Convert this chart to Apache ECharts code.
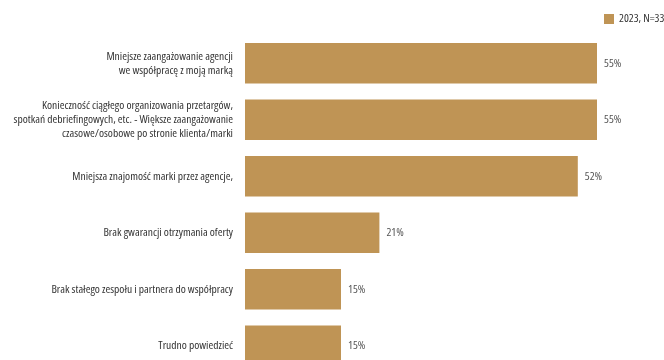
<!DOCTYPE html>
<html>
<head>
<meta charset="utf-8">
<script src="https://cdn.jsdelivr.net/npm/echarts@6/dist/echarts.min.js"></script>
<style>
  html, body { margin: 0; padding: 0; background: #fff; }
  #chart { width: 664px; height: 360px; }
</style>
</head>
<body>
<div id="chart"></div>
<script>
// Reasons listed by respondents (top to bottom)
const categories = [
  'Mniejsze zaangażowanie agencji\nwe współpracę z moją marką',
  'Konieczność ciągłego organizowania przetargów,\nspotkań debriefingowych, etc. - Większe zaangażowanie\nczasowe/osobowe po stronie klienta/marki',
  'Mniejsza znajomość marki przez agencje,',
  'Brak gwarancji otrzymania oferty',
  'Brak stałego zespołu i partnera do współpracy',
  'Trudno powiedzieć'
];
// Share of answers, %
const values2023 = [55, 55, 52, 21, 15, 15];
const seriesName = '2023, N=33';

// Open Sans is a variable font with a width axis; ask for its narrowest cut
const FONT = '"Open Sans", sans-serif';
const STRETCH = 'extra-condensed';
const chart = echarts.init(document.getElementById('chart'), null, { renderer: 'canvas' });
chart.setOption({
  animation: false,
  textStyle: { fontFamily: FONT },
  legend: {
    left: 604,
    top: 13,
    padding: 0,
    itemWidth: 10,
    itemHeight: 10,
    icon: 'rect',
    textStyle: { fontFamily: FONT, fontWeight: STRETCH, fontSize: 11.5, color: '#333' },
    data: [seriesName]
  },
  grid: { left: 245, top: 35, width: 640, height: 339, containLabel: false, outerBoundsMode: 'none' },
  xAxis: {
    type: 'value',
    min: 0,
    max: 100,
    show: false
  },
  yAxis: {
    type: 'category',
    inverse: true,
    data: categories,
    axisLine: { show: false },
    axisTick: { show: false },
    axisLabel: {
      margin: 12,
      fontFamily: FONT,
      fontWeight: STRETCH,
      fontSize: 11.5,
      lineHeight: 14,
      color: '#333',
      align: 'right'
    }
  },
  series: [{
    name: seriesName,
    type: 'bar',
    data: values2023,
    barWidth: '72%',
    itemStyle: { color: '#BF9455' },
    label: {
      show: true,
      position: 'right',
      distance: 7,
      formatter: '{c}%',
      fontFamily: FONT,
      fontWeight: STRETCH,
      fontSize: 11.5,
      color: '#555'
    }
  }]
});
</script>
</body>
</html>
